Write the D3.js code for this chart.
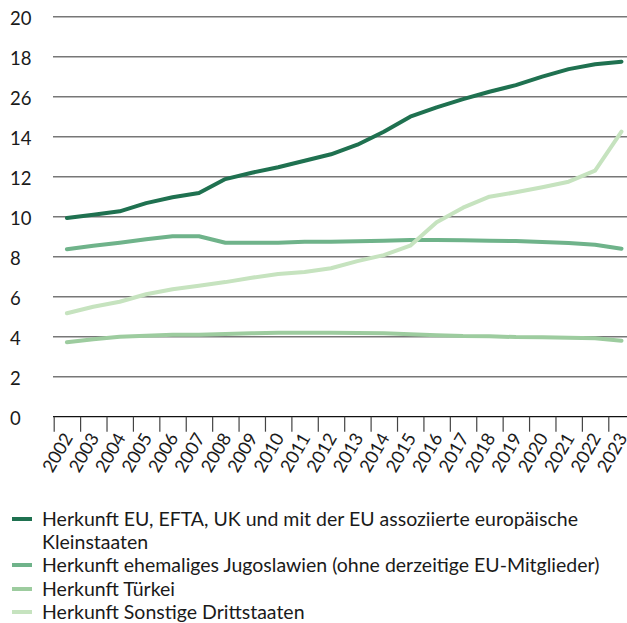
<!DOCTYPE html>
<html>
<head>
<meta charset="utf-8">
<script src="https://cdn.jsdelivr.net/npm/d3@7"></script>
<style>
  html, body { margin: 0; padding: 0; background: #fff; }
  svg { display: block; font-family: Lato, "Open Sans", sans-serif; }
</style>
</head>
<body>
<svg id="chart" width="627" height="623"></svg>
<script>
const years = [2002,2003,2004,2005,2006,2007,2008,2009,2010,2011,2012,2013,2014,2015,2016,2017,2018,2019,2020,2021,2022,2023];

const euValues   = [9.93,10.1,10.27,10.68,10.97,11.18,11.88,12.2,12.47,12.8,13.12,13.6,14.25,15.0,15.47,15.88,16.25,16.58,17.0,17.38,17.62,17.75];
const jugoValues = [8.37,8.55,8.7,8.87,9.02,9.02,8.7,8.7,8.7,8.75,8.75,8.77,8.8,8.83,8.83,8.82,8.8,8.78,8.73,8.68,8.6,8.4];
const tuerkeiValues = [3.72,3.87,4.0,4.05,4.1,4.1,4.13,4.17,4.2,4.2,4.2,4.18,4.17,4.12,4.07,4.03,4.02,3.98,3.97,3.95,3.92,3.8];
const sonstigeValues = [5.17,5.5,5.75,6.12,6.37,6.55,6.73,6.95,7.13,7.23,7.42,7.78,8.08,8.55,9.72,10.45,11.0,11.22,11.47,11.75,12.3,14.25];

const yTickValues = [0,2,4,6,8,10,12,14,16,18,20];
const yTickLabels = ["0","2","4","6","8","10","12","14","26","18","20"];

const seriesNames = [
  ["Herkunft EU, EFTA, UK und mit der EU assoziierte europäische", "Kleinstaaten"],
  ["Herkunft ehemaliges Jugoslawien (ohne derzeitige EU-Mitglieder)"],
  ["Herkunft Türkei"],
  ["Herkunft Sonstige Drittstaaten"]
];
const seriesColors = ["#1f7150", "#6fb38a", "#9dcc9f", "#c6e3bf"];
const seriesValues = [euValues, jugoValues, tuerkeiValues, sonstigeValues];

const svg = d3.select("#chart");

const x = d3.scaleLinear().domain([2002, 2024]).range([53.7, 634.7]);
const y = d3.scaleLinear().domain([0, 20]).range([416.7, 16.7]);
const step = x(2003) - x(2002);

// gridlines
svg.append("g").selectAll("line")
  .data(yTickValues.filter(d => d > 0))
  .join("line")
  .attr("x1", 53).attr("x2", 627)
  .attr("y1", d => y(d)).attr("y2", d => y(d))
  .attr("stroke", "#777").attr("stroke-width", 1.6);

// y labels
svg.append("g").selectAll("text")
  .data(yTickValues)
  .join("text")
  .attr("x", 10)
  .attr("y", d => y(d) + 2)
  .attr("dy", "0.35em")
  .attr("font-size", 18.5)
  .attr("fill", "#1a1a1a")
  .text((d, i) => yTickLabels[i]);

// x axis
const xAxis = d3.axisBottom(x).tickValues(years).tickSize(15).tickSizeOuter(0).tickFormat(d3.format("d"));
const gx = svg.append("g").attr("transform", `translate(0,${y(0)})`).call(xAxis);
gx.select(".domain").attr("stroke", "#111").attr("stroke-width", 1.3).attr("d", `M53,0H627`);
gx.selectAll(".tick line").attr("stroke", "#444").attr("stroke-width", 1.2);
gx.selectAll(".tick text")
  .attr("font-size", 18)
  .attr("font-family", "Lato, 'Open Sans', sans-serif")
  .attr("fill", "#1a1a1a")
  .attr("text-anchor", "end")
  .attr("y", 0).attr("dy", 0)
  .attr("transform", `translate(${step/2 + 6},21) rotate(-60)`);

// lines
const line = d3.line()
  .x((d, i) => x(years[i] + 0.5))
  .y(d => y(d));

svg.append("g").selectAll("path")
  .data(seriesValues)
  .join("path")
  .attr("d", d => line(d))
  .attr("fill", "none")
  .attr("stroke", (d, i) => seriesColors[i])
  .attr("stroke-width", 4)
  .attr("stroke-linejoin", "round")
  .attr("stroke-linecap", "round");

// legend
const legendRows = [519, 565, 589, 612];
const lg = svg.append("g");
seriesNames.forEach((lines, i) => {
  const yy = legendRows[i];
  lg.append("line")
    .attr("x1", 12).attr("x2", 32)
    .attr("y1", yy).attr("y2", yy)
    .attr("stroke", seriesColors[i]).attr("stroke-width", 4);
  lines.forEach((t, j) => {
    lg.append("text")
      .attr("x", 42).attr("y", yy + j * 23)
      .attr("dy", "0.35em")
      .attr("font-size", 19.5)
      .attr("fill", "#1a1a1a")
      .text(t);
  });
});
</script>
</body>
</html>
